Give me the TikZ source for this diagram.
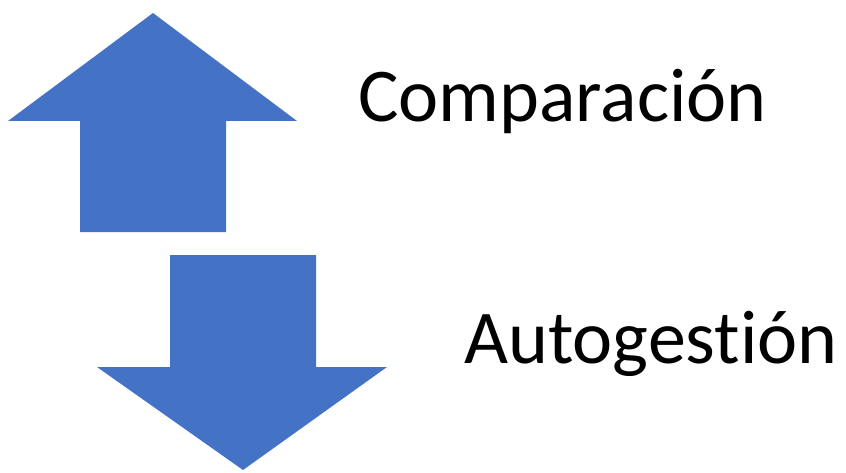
\documentclass[tikz,border=0pt]{standalone}
\usepackage{fontspec}
\setmainfont[Ligatures=NoCommon]{Carlito}
\definecolor{arrowblue}{HTML}{4472C4}
\begin{document}
\begin{tikzpicture}[x=1pt,y=1pt,
  blockarrow/.style={fill=arrowblue,draw=none},
  label/.style={anchor=base west,inner sep=0pt,font=\fontsize{76}{90}\selectfont}]
\useasboundingbox (0,0) rectangle (846,472);
% upward block arrow
\fill[blockarrow] (153,459) -- (297,351) -- (226,351) -- (226,240) -- (80,240)
  -- (80,351) -- (8,351) -- cycle;
% downward block arrow
\fill[blockarrow] (170,217) -- (316,217) -- (316,105) -- (387,105) -- (243,2)
  -- (97,105) -- (170,105) -- cycle;
\node[label] (comp) at (358,350) {Comparación};
\node[label] (auto) at (464,109) {Autogestión};
\end{tikzpicture}
\end{document}
